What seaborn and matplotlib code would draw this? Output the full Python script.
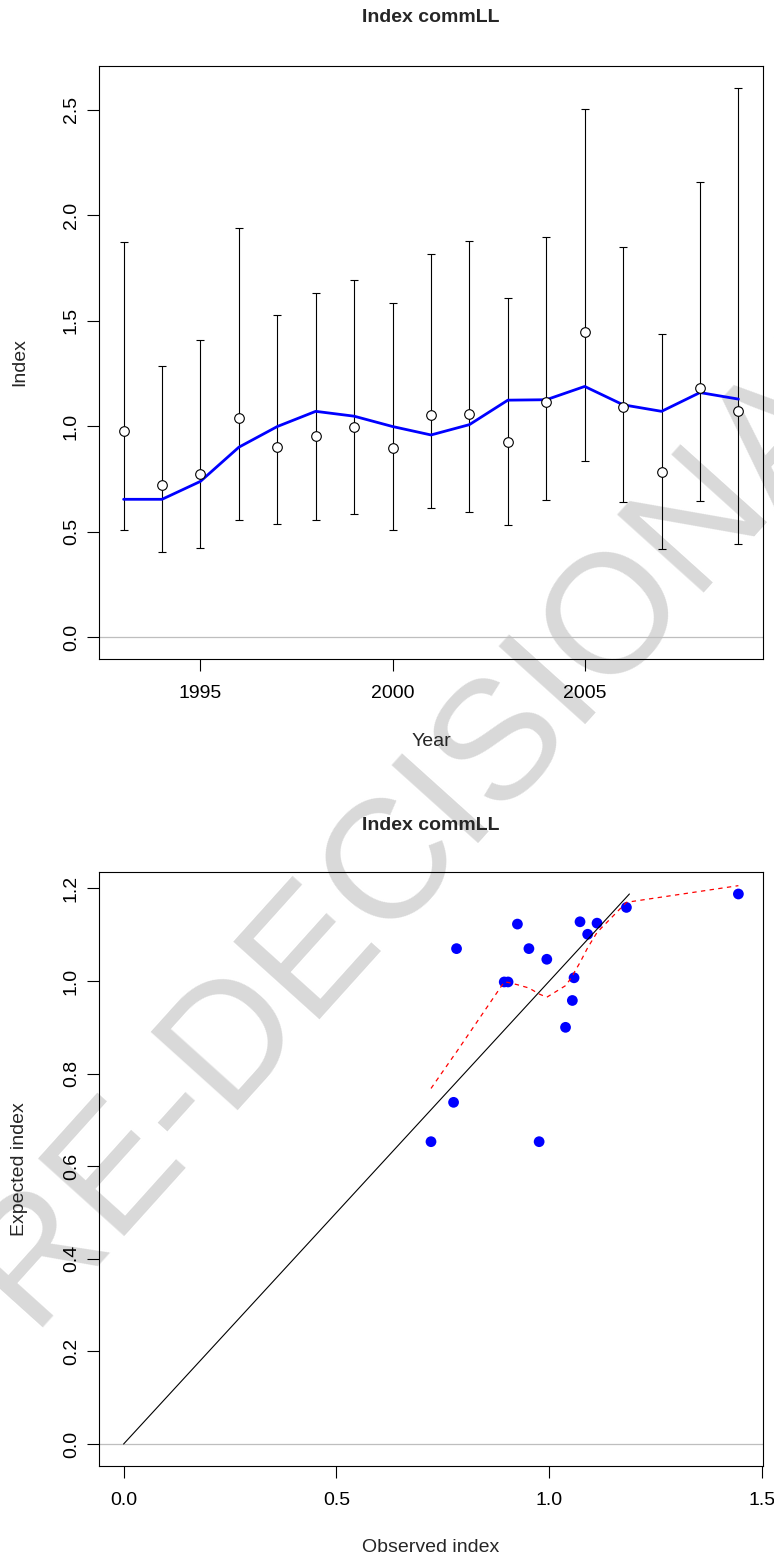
import matplotlib
matplotlib.use("Agg")
import matplotlib.pyplot as plt
import seaborn as sns
import pandas as pd

# ---- data -------------------------------------------------------------
years = [1993, 1994, 1995, 1996, 1997, 1998, 1999, 2000, 2001,
         2002, 2003, 2004, 2005, 2006, 2007, 2008, 2009]
observed = [0.976, 0.722, 0.775, 1.038, 0.903, 0.952, 0.994, 0.894, 1.054,
            1.058, 0.925, 1.112, 1.444, 1.090, 0.782, 1.181, 1.072]
lower_ci = [0.508, 0.403, 0.423, 0.555, 0.537, 0.557, 0.582, 0.508, 0.613,
            0.595, 0.533, 0.651, 0.833, 0.640, 0.419, 0.646, 0.439]
upper_ci = [1.872, 1.286, 1.406, 1.938, 1.528, 1.629, 1.693, 1.582, 1.816,
            1.878, 1.609, 1.896, 2.505, 1.851, 1.435, 2.155, 2.603]
expected = [0.653, 0.653, 0.738, 0.900, 0.998, 1.070, 1.047, 0.998, 0.958,
            1.007, 1.123, 1.125, 1.188, 1.101, 1.070, 1.159, 1.128]

# smoother of expected on observed, evaluated at the sorted observed values
smooth_x = [0.722, 0.775, 0.782, 0.894, 0.903, 0.925, 0.952, 0.976, 0.994,
            1.038, 1.054, 1.058, 1.072, 1.090, 1.112, 1.181, 1.444]
smooth_y = [0.768, 0.838, 0.847, 0.998, 0.997, 0.992, 0.985, 0.972, 0.965,
            0.990, 1.010, 1.018, 1.040, 1.072, 1.105, 1.170, 1.206]

title = "Index commLL"
watermark = "PRE-DECISIONAL"

top_xticks = [1995, 2000, 2005]
top_yticks = [0.0, 0.5, 1.0, 1.5, 2.0, 2.5]
bot_xticks = [0.0, 0.5, 1.0, 1.5]
bot_yticks = [0.0, 0.2, 0.4, 0.6, 0.8, 1.0, 1.2]

df = pd.DataFrame({"Year": years, "Observed": observed, "Lower": lower_ci,
                   "Upper": upper_ci, "Expected": expected})

# ---- style ------------------------------------------------------------
sns.set_theme(style="ticks")
plt.rcParams["font.family"] = ["Liberation Sans", "DejaVu Sans"]
plt.rcParams["axes.edgecolor"] = "black"
plt.rcParams["axes.linewidth"] = 0.8

W, H = 774, 1560
fig = plt.figure(figsize=(W / 100, H / 100), dpi=100)
fig.patch.set_facecolor("white")

def px_axes(left, top, right, bottom):
    return fig.add_axes([left / W, 1 - bottom / H, (right - left) / W, (bottom - top) / H])

ax1 = px_axes(99, 66, 763, 659)
ax2 = px_axes(99, 872, 763, 1466)

FS = 14
for ax in (ax1, ax2):
    ax.set_facecolor("none")
    for s in ax.spines.values():
        s.set_visible(True)
        s.set_color("black")
        s.set_linewidth(0.8)
    ax.tick_params(axis="both", direction="out", length=8.3, width=0.8,
                   color="black", labelsize=FS, labelcolor="black")
    ax.tick_params(axis="x", pad=10.5)
    ax.tick_params(axis="y", pad=5.5)

# diagonal watermark behind both panels
fig.text(400 / W, 1 - 850 / H, watermark, rotation=48, fontsize=122,
         color="#d9d9d9", ha="center", va="center", zorder=-1,
         family=["Liberation Sans", "DejaVu Sans"])

# ---- top panel: index by year ------------------------------------------
ax1.axhline(0, color="#bebebe", lw=0.9, zorder=1)
ax1.errorbar(df["Year"], df["Observed"],
             yerr=[df["Observed"] - df["Lower"], df["Upper"] - df["Observed"]],
             fmt="none", ecolor="black", elinewidth=0.8, capsize=2.6,
             capthick=0.8, zorder=2)
sns.lineplot(data=df, x="Year", y="Expected", ax=ax1, color="#0000ff",
             lw=2.0, zorder=3)
sns.scatterplot(data=df, x="Year", y="Observed", ax=ax1, s=48,
                facecolor="white", edgecolor="black", linewidth=0.8, zorder=4)

ax1.set_xlim(1992.36, 2009.64)
ax1.set_ylim(-0.104, 2.707)
ax1.set_xticks(top_xticks)
ax1.set_xticklabels([str(t) for t in top_xticks])
ax1.set_yticks(top_yticks)
ax1.set_yticklabels([f"{t:.1f}" for t in top_yticks], rotation=90, va="center")
ax1.set_xlabel("Year", fontsize=FS)
ax1.set_ylabel("Index", fontsize=FS)
ax1.xaxis.set_label_coords(0.5, -82 / 593)
ax1.xaxis.label.set_va("center")
ax1.yaxis.set_label_coords(-79 / 664, 0.5)
ax1.yaxis.label.set_va("center")
ax1.set_title(title, fontsize=FS, fontweight="bold", y=1 + 48 / 593, pad=0,
              va="center")

# ---- bottom panel: expected vs observed ---------------------------------
ax2.axhline(0, color="#bebebe", lw=0.9, zorder=1)
sns.scatterplot(data=df, x="Observed", y="Expected", ax=ax2, s=60,
                color="#0000ff", edgecolor="none", zorder=2)
diag = [0, max(expected)]
sns.lineplot(x=diag, y=diag, ax=ax2, color="black", lw=0.8, zorder=3)
sns.lineplot(x=smooth_x, y=smooth_y, ax=ax2, color="#ff0000", lw=0.9,
             zorder=4)
ax2.lines[-1].set_dashes((3.5, 3.5))

ax2.set_xlim(-0.0578, 1.5018)
ax2.set_ylim(-0.0475, 1.2355)
ax2.set_xticks(bot_xticks)
ax2.set_xticklabels([f"{t:.1f}" for t in bot_xticks])
ax2.set_yticks(bot_yticks)
ax2.set_yticklabels([f"{t:.1f}" for t in bot_yticks], rotation=90, va="center")
ax2.set_xlabel("Observed index", fontsize=FS)
ax2.set_ylabel("Expected index", fontsize=FS)
ax2.xaxis.set_label_coords(0.5, -81 / 594)
ax2.xaxis.label.set_va("center")
ax2.yaxis.set_label_coords(-79 / 664, 0.5)
ax2.yaxis.label.set_va("center")
ax2.set_title(title, fontsize=FS, fontweight="bold", y=1 + 46 / 594, pad=0,
              va="center")

fig.savefig("out.png", dpi=100, facecolor="white")
